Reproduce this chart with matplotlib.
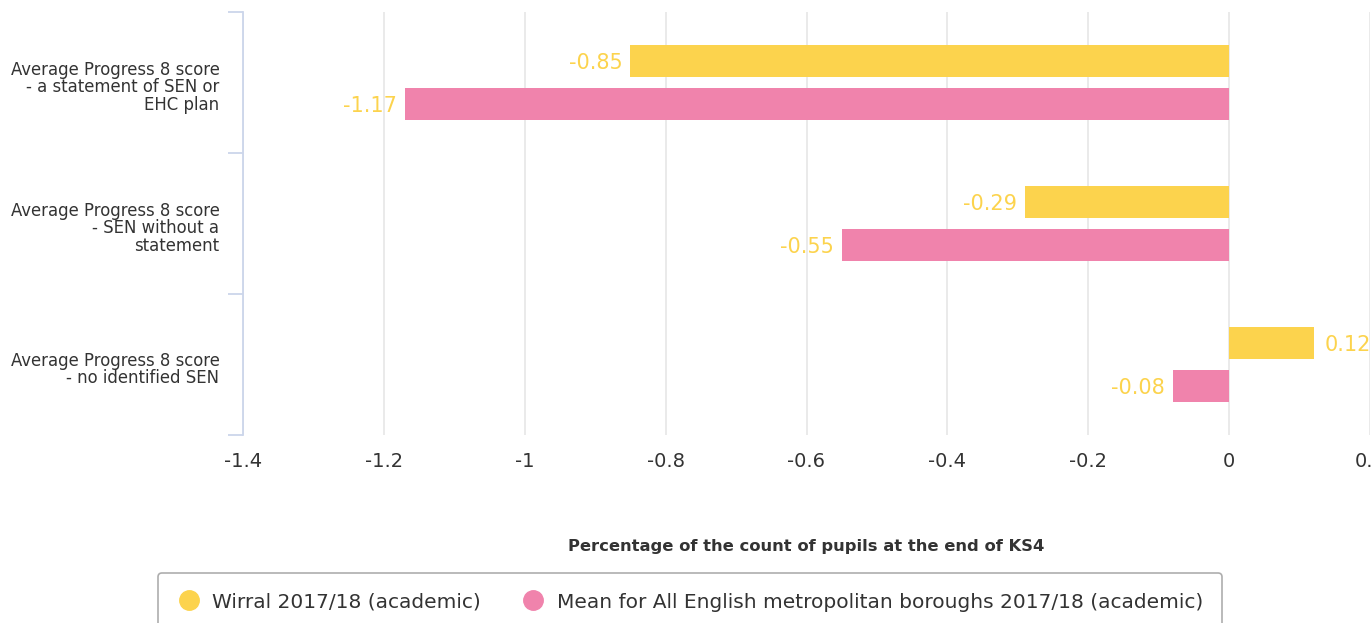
import numpy as np
import matplotlib
matplotlib.use("Agg")
import matplotlib.pyplot as plt
from matplotlib.lines import Line2D

plt.rcParams["font.family"] = ["DejaVu Sans"]

categories = ["Average Progress 8 score\n- a statement of SEN or\nEHC plan",
              "Average Progress 8 score\n- SEN without a\nstatement",
              "Average Progress 8 score\n- no identified SEN"]
wirral = [-0.85, -0.29, 0.12]
mean_boroughs = [-1.17, -0.55, -0.08]
series_names = ["Wirral 2017/18 (academic)",
                "Mean for All English metropolitan boroughs 2017/18 (academic)"]
xticks = [-1.4, -1.2, -1, -0.8, -0.6, -0.4, -0.2, 0, 0.2]
xtick_labels = ["-1.4", "-1.2", "-1", "-0.8", "-0.6", "-0.4", "-0.2", "0", "0.2"]

yellow = "#FCD34D"
pink = "#F083AC"
axis_col = "#CCD6EB"
text_col = "#333333"

fig = plt.figure(figsize=(13.72, 6.23), dpi=100)
ax = fig.add_axes([243/1372, 1-435/623, 1127/1372, 423/623])

ypos = np.arange(len(categories))
off = 0.149
h = 0.227
ax.barh(ypos - off, wirral, height=h, color=yellow, zorder=3)
ax.barh(ypos + off, mean_boroughs, height=h, color=pink, zorder=3)

for vals, sgn in ((wirral, -1), (mean_boroughs, 1)):
    for i, v in enumerate(vals):
        lab = "%.2f" % v
        if v < 0:
            ax.annotate(lab, (v, i + sgn*off), xytext=(-8, -2), textcoords="offset pixels",
                        ha="right", va="center", color=yellow, fontsize=15)
        else:
            ax.annotate(lab, (v, i + sgn*off), xytext=(11, -2), textcoords="offset pixels",
                        ha="left", va="center", color=yellow, fontsize=15)

ax.set_xlim(-1.4, 0.2)
ax.set_ylim(len(categories) - 0.5, -0.5)
ax.set_xticks(xticks)
ax.set_xticklabels(xtick_labels)
# labels sit a touch below the category centre, as in the original
ax.set_yticks(ypos + 0.035)
ax.set_yticklabels(categories, linespacing=0.95, va="center")
ax.set_yticks(np.arange(len(categories) + 1) - 0.5, minor=True)

ax.tick_params(axis="x", length=0, pad=12, labelsize=14, labelcolor=text_col)
ax.tick_params(axis="y", which="major", length=0, pad=17, labelsize=11.9, labelcolor=text_col)
ax.tick_params(axis="y", which="minor", length=11, width=1.3, color=axis_col)

ax.grid(axis="x", color="#E6E6E6", linewidth=1.2, zorder=0)
for s in ["top", "right", "bottom"]:
    ax.spines[s].set_visible(False)
ax.spines["left"].set_color(axis_col)
ax.spines["left"].set_linewidth(1.3)

ax.set_xlabel("Percentage of the count of pupils at the end of KS4", fontsize=11.8,
              fontweight="bold", color=text_col, labelpad=49)

handles = [Line2D([], [], marker="o", linestyle="none", markersize=14, color=yellow),
           Line2D([], [], marker="o", linestyle="none", markersize=14, color=pink)]
leg = fig.legend(handles, series_names, loc="center", bbox_to_anchor=(690/1372, 1-602/623),
                 ncol=2, fontsize=14.5, frameon=True, fancybox=True, edgecolor="#999999",
                 handlelength=1.2, handletextpad=0.55, columnspacing=2.0, borderpad=0.95,
                 labelcolor=text_col)
leg.get_frame().set_linewidth(1.2)

fig.savefig("out.png", dpi=100)
